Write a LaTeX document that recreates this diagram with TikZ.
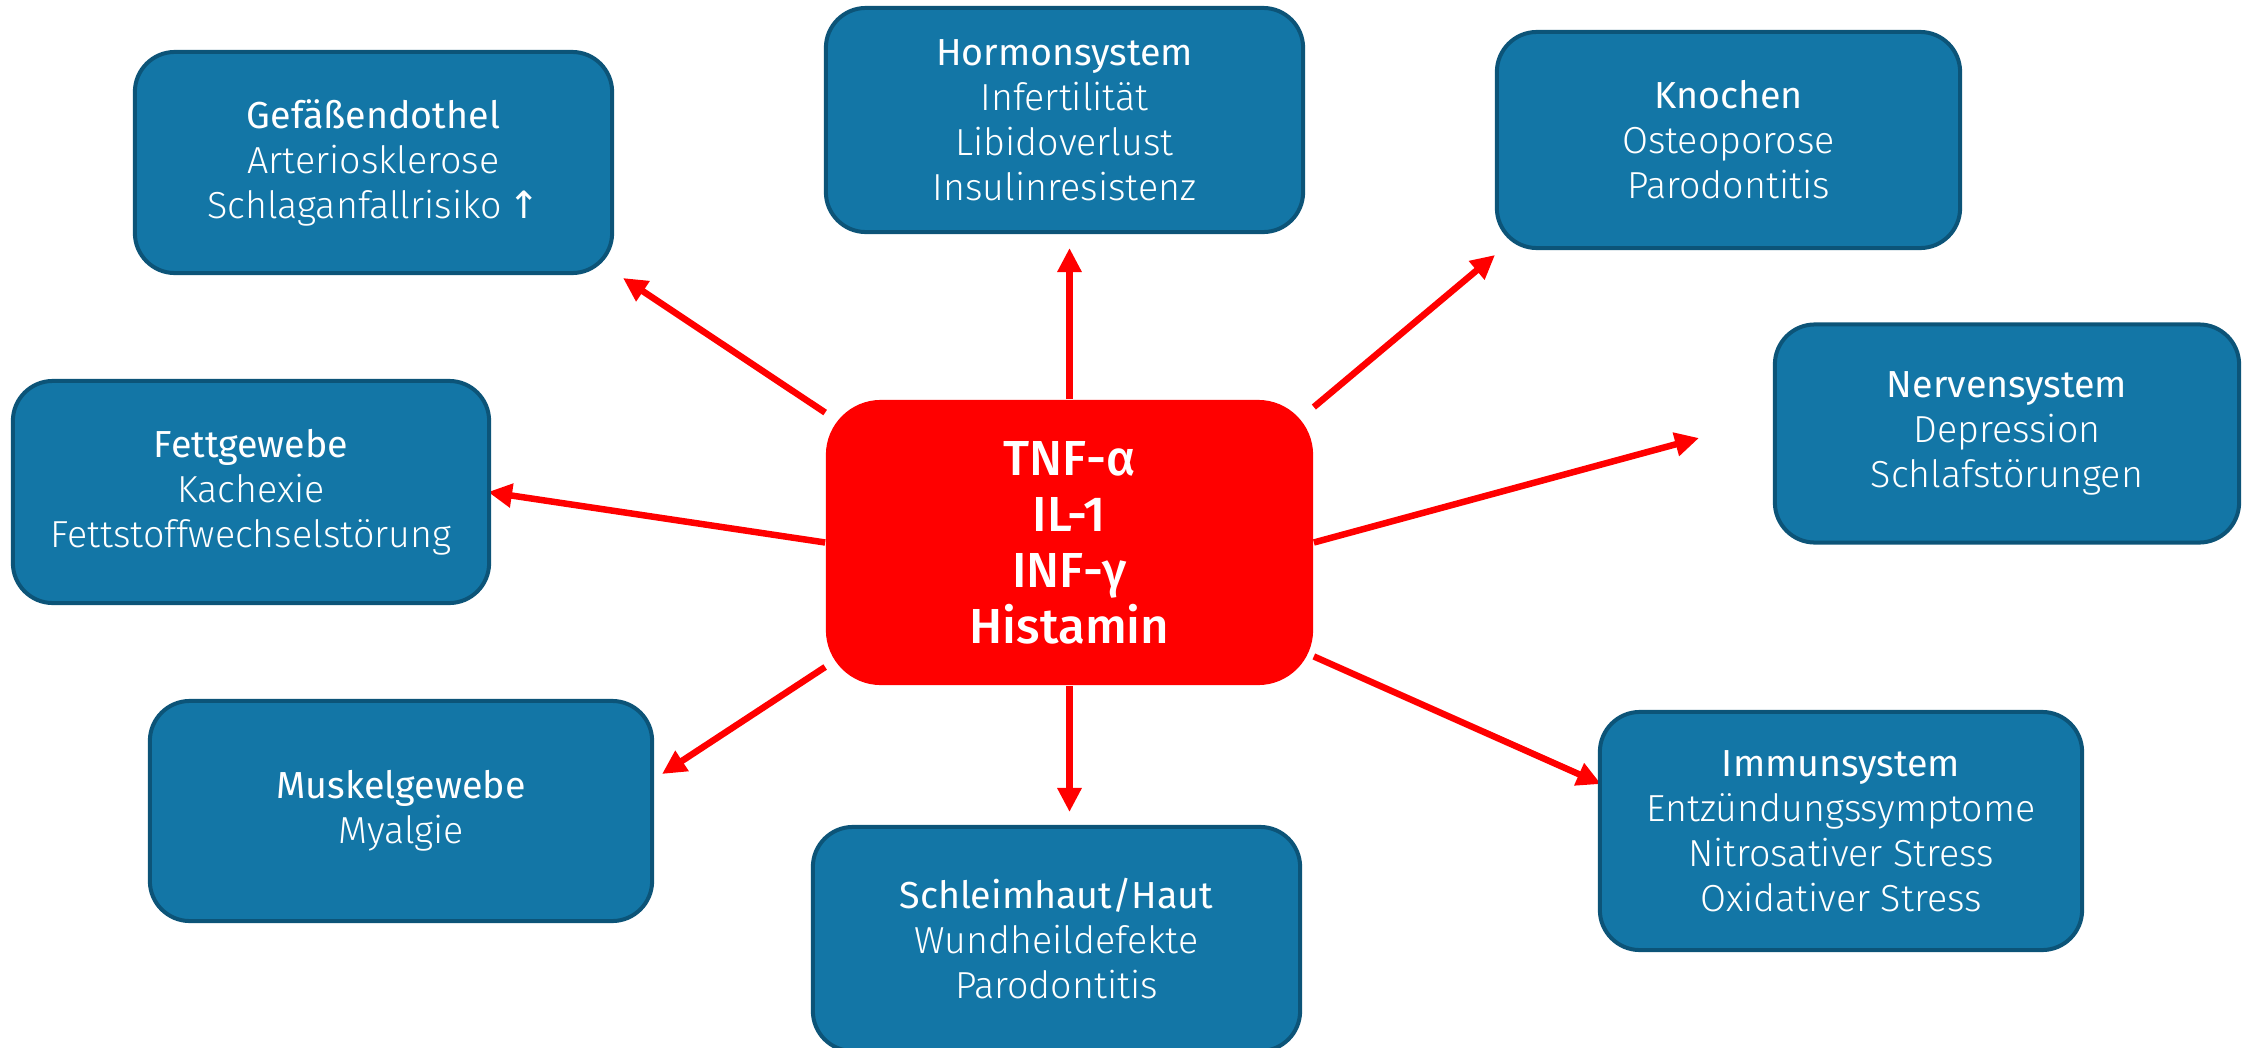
\documentclass[tikz,border=0pt]{standalone}
\usepackage{fontspec}
\setmainfont{Fira Sans}
\newfontfamily\lightfont{Fira Sans Light}
\newfontfamily\medfont{Fira Sans Medium}
\newfontfamily\symfont{DejaVu Sans}
\usetikzlibrary{arrows.meta,backgrounds}
\definecolor{organblue}{RGB}{19,118,166}
\definecolor{organline}{RGB}{12,84,120}

\begin{document}
\begin{tikzpicture}[x=0.01cm, y=0.01cm,
  organ/.style={rectangle, rounded corners=0.4cm, fill=organblue, draw=organline, line width=0.04cm, text=white, align=center, font=\lightfont\fontsize{10.7}{12.8}\selectfont},
  cyto/.style={rectangle, rounded corners=0.55cm, fill=red, text=white, align=center, font=\medfont\fontsize{14}{15.9}\selectfont, minimum width=4.87cm, minimum height=2.85cm},
  effect/.style={-{Triangle[length=0.24cm, width=0.23cm]}, red, line width=0.065cm}]
\useasboundingbox (0,0) rectangle (2247,1047);
\node[cyto] (Cyt) at (1069.5,504.5) {TNF-α\\IL-1\\INF-γ\\Histamin};
\node[organ, minimum width=4.77cm, minimum height=2.21cm] (Gef) at (373.5,884.5) {{\rmfamily Gefäßendothel}\\Arteriosklerose\\Schlaganfallrisiko\,{\symfont ↑}};
\node[organ, minimum width=4.77cm, minimum height=2.24cm] (Horm) at (1064.5,927) {{\rmfamily Hormonsystem}\\Infertilität\\Libidoverlust\\Insulinresistenz};
\node[organ, minimum width=4.63cm, minimum height=2.16cm] (Kno) at (1728.5,907) {{\rmfamily Knochen}\\Osteoporose\\Parodontitis};
\node[organ, minimum width=4.64cm, minimum height=2.18cm] (Ner) at (2007,613.5) {{\rmfamily Nervensystem}\\Depression\\Schlafstörungen};
\node[organ, minimum width=4.76cm, minimum height=2.22cm] (Fett) at (251,555) {{\rmfamily Fettgewebe}\\Kachexie\\Fettstoffwechselstörung};
\node[organ, minimum width=5.02cm, minimum height=2.2cm] (Mus) at (401,236) {{\rmfamily Muskelgewebe}\\Myalgie};
\node[organ, minimum width=4.87cm, minimum height=2.24cm] (Sch) at (1056.5,108) {{\rmfamily Schleimhaut/Haut}\\Wundheildefekte\\Parodontitis};
\node[organ, minimum width=4.82cm, minimum height=2.38cm] (Imm) at (1841,216) {{\rmfamily Immunsystem}\\Entzündungssymptome\\Nitrosativer Stress\\Oxidativer Stress};
% arrow tips
\coordinate (tGef) at (623,769);
\coordinate (tHorm) at (1069.5,799);
\coordinate (tKno) at (1495,792);
\coordinate (tNer) at (1699,609);
\coordinate (tFett) at (488,555);
\coordinate (tMus) at (662,273);
\coordinate (tSch) at (1069.5,235);
\coordinate (tImm) at (1601,263);
\begin{scope}[on background layer]
\draw[effect] (Cyt.152) -- (tGef);
\draw[effect] (Cyt.north) -- (tHorm);
\draw[effect] (Cyt.29) -- (tKno);
\draw[effect] (Cyt.east) -- (tNer);
\draw[effect] (Cyt.west) -- (tFett);
\draw[effect] (Cyt.207) -- (tMus);
\draw[effect] (Cyt.south) -- (tSch);
\draw[effect] (Cyt.-25) -- (tImm);
\end{scope}
\end{tikzpicture}
\end{document}
